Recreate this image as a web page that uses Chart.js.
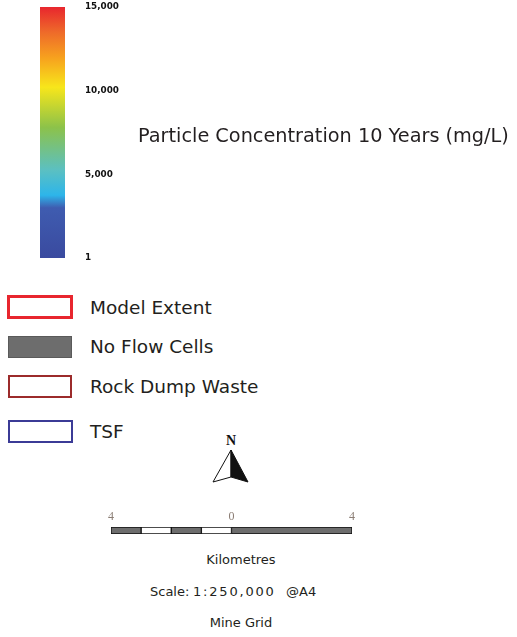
<!DOCTYPE html>
<html>
<head>
<meta charset="utf-8">
<script src="https://cdn.jsdelivr.net/npm/chart.js@4/dist/chart.umd.min.js"></script>
<style>
  html, body { margin: 0; padding: 0; background: #fff; }
  #page { position: relative; width: 517px; height: 637px; overflow: hidden; font-family: "DejaVu Sans", Verdana, sans-serif; color: #231f20; }
  .abs { position: absolute; white-space: nowrap; }
  .swatch { position: absolute; box-sizing: border-box; }
  .legendText { position: absolute; left: 90px; font-size: 18.5px; line-height: 20px; white-space: nowrap; }
  .small { position: absolute; font-size: 13px; line-height: 16px; white-space: nowrap; }
</style>
</head>
<body>
<div id="page">
  <div class="abs" style="left:0;top:0;width:140px;height:270px;"><canvas id="rampChart"></canvas></div>
  <div class="abs" style="left:138px;top:125px;font-size:19.3px;line-height:22px;">Particle Concentration 10 Years (mg/L)</div>
  <div id="legend"></div>
  <svg class="abs" style="left:205px;top:430px;" width="50" height="60" viewBox="205 430 50 60">
    <text x="231" y="445" text-anchor="middle" font-family="Liberation Serif, serif" font-weight="bold" font-size="14" fill="#111">N</text>
    <polygon points="231,450 213,482 231,477" fill="#fff" stroke="#111" stroke-width="1"/>
    <polygon points="231,450 248,482 231,477" fill="#111" stroke="#111" stroke-width="1"/>
  </svg>
  <div class="abs" style="left:90px;top:505px;width:290px;height:40px;"><canvas id="scaleChart"></canvas></div>
  <div class="small" style="left:0;width:482px;text-align:center;top:552px;">Kilometres</div>
  <div class="small" style="left:150px;top:584px;">Scale:</div>
  <div class="small" style="left:193px;top:584px;letter-spacing:1.8px;">1:250,000</div>
  <div class="small" style="left:286px;top:584px;">@A4</div>
  <div class="small" style="left:0;width:482px;text-align:center;top:615px;">Mine Grid</div>
</div>
<script>
// Colour ramp range and tick labels
const rampRange = [1, 15000];
const rampTicks = [1, 5000, 10000, 15000];
const rampColors = ['#3a4a9f', '#3f5cb0', '#2db5ea', '#5bc0c2', '#8cc24a', '#f7e61b', '#f7a01e', '#ee6a2a', '#e8262e'];
const rampStops = [0, 0.2, 0.25, 0.35, 0.52, 0.68, 0.8, 0.9, 1];

// Legend entries
const legendNames = ['Model Extent', 'No Flow Cells', 'Rock Dump Waste', 'TSF'];
const legendBorders = ['#e8262e', '#5a5a5a', '#9c2b2b', '#3b3b96'];
const legendFills = ['#ffffff', '#6d6d6d', '#ffffff', '#ffffff'];

// Scale bar segments (km)
const scaleSegments = [[-4, -3], [-3, -2], [-2, -1], [-1, 0], [0, 4]];
const scaleFills = ['#6d6d6d', '#ffffff', '#6d6d6d', '#ffffff', '#6d6d6d'];
const scaleTicks = [-4, 0, 4];

// Build legend
const swatchBoxes = [
    { left: 7, top: 295, width: 66, height: 24, bw: 3 },
    { left: 8, top: 336, width: 64, height: 22, bw: 1 },
    { left: 8, top: 375, width: 64, height: 23, bw: 2 },
    { left: 8, top: 420, width: 65, height: 23, bw: 2 }
];
const textCentres = [308, 347, 387, 432];
const legendEl = document.getElementById('legend');
legendNames.forEach((name, i) => {
    const b = swatchBoxes[i];
    const sw = document.createElement('div');
    sw.className = 'swatch';
    sw.style.cssText = `left:${b.left}px;top:${b.top}px;width:${b.width}px;height:${b.height}px;` +
        `border:${b.bw}px solid ${legendBorders[i]};background:${legendFills[i]};`;
    legendEl.appendChild(sw);
    const t = document.createElement('div');
    t.className = 'legendText';
    t.style.top = (textCentres[i] - 10) + 'px';
    t.textContent = name;
    legendEl.appendChild(t);
});

// Colour ramp chart
new Chart(document.getElementById('rampChart'), {
    type: 'bar',
    data: {
        labels: ['ramp'],
        datasets: [{
            data: [rampRange],
            barPercentage: 1,
            categoryPercentage: 1,
            borderWidth: 0,
            backgroundColor: (ctx) => {
                const area = ctx.chart.chartArea;
                if (!area) return rampColors[0];
                const g = ctx.chart.ctx.createLinearGradient(0, area.bottom, 0, area.top);
                rampColors.forEach((c, i) => g.addColorStop(rampStops[i], c));
                return g;
            }
        }]
    },
    options: {
        responsive: true,
        maintainAspectRatio: false,
        animation: false,
        layout: { padding: { left: 40, top: 7, bottom: 12 } },
        plugins: { legend: { display: false }, tooltip: { enabled: false } },
        scales: {
            x: { display: false },
            y: {
                position: 'right',
                min: rampRange[0],
                max: rampRange[1],
                grid: { display: false, drawTicks: false },
                border: { display: false },
                afterFit: (s) => { s.width = 75; s.paddingTop = 0; s.paddingBottom = 0; },
                afterBuildTicks: (s) => { s.ticks = rampTicks.map(v => ({ value: v })); },
                ticks: {
                    padding: 20,
                    color: '#111',
                    font: { family: 'DejaVu Sans', size: 8.8, weight: 'bold' },
                    callback: (v) => v.toLocaleString('en-US')
                }
            }
        }
    }
});

// Scale bar chart
new Chart(document.getElementById('scaleChart'), {
    type: 'bar',
    data: {
        labels: ['km'],
        datasets: scaleSegments.map((seg, i) => ({
            data: [seg],
            backgroundColor: scaleFills[i],
            borderColor: '#111',
            borderWidth: 1,
            borderSkipped: false,
            grouped: false,
            barPercentage: 1,
            categoryPercentage: 1
        }))
    },
    options: {
        indexAxis: 'y',
        responsive: true,
        maintainAspectRatio: false,
        animation: false,
        layout: { padding: { left: 21, right: 28, bottom: 11 } },
        plugins: { legend: { display: false }, tooltip: { enabled: false } },
        scales: {
            y: { display: false },
            x: {
                position: 'top',
                min: scaleTicks[0],
                max: scaleTicks[scaleTicks.length - 1],
                grid: { display: false, drawTicks: false },
                border: { display: false },
                afterFit: (s) => { s.height = 22; },
                afterBuildTicks: (s) => { s.ticks = scaleTicks.map(v => ({ value: v })); },
                ticks: {
                    padding: 3,
                    maxRotation: 0,
                    color: '#8b7d74',
                    font: { family: 'Liberation Serif', size: 12 },
                    callback: (v) => String(Math.abs(v))
                }
            }
        }
    }
});
</script>
</body>
</html>
